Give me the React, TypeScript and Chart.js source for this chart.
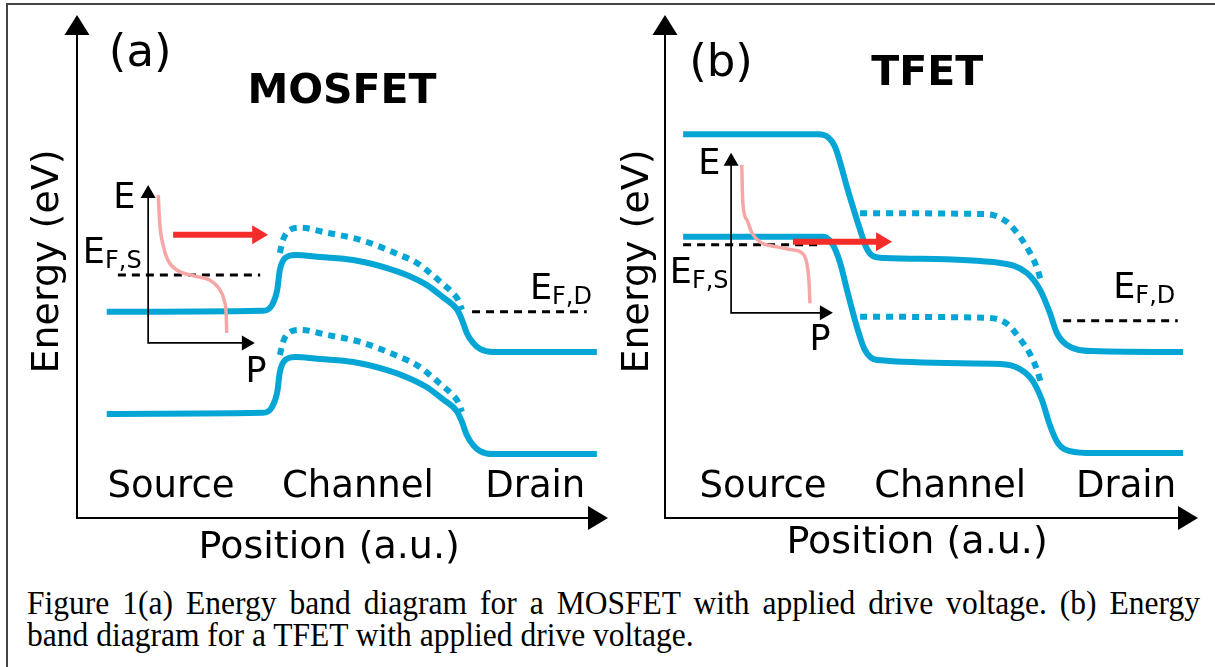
import { useEffect, useRef } from "react";
import { Chart, registerables } from "chart.js";

Chart.register(...registerables);

type Pt = [number, number];

const FONT = '"DejaVu Sans", Verdana, sans-serif';
const BAND = "#05a6d6";
const OCCUPANCY = "#f6a7a5";
const INJECTION = "#f42c2a";

const regionNames = ["Source", "Channel", "Drain"];
const energyTitle = "Energy (eV)";
const positionTitle = "Position (a.u.)";
const captionLines = [
  "Figure 1(a) Energy band diagram for a MOSFET with applied drive voltage. (b) Energy",
  "band diagram for a TFET with applied drive voltage.",
];

// ---------- (a) MOSFET: position 0–100 a.u., energy 0–100 a.u. ----------
const mosCbDriven: Pt[] = [
  [5.6, 41.0], [35.0, 41.2], [36.7, 42.3], [37.7, 45.3], [38.2, 49.3], [39.2, 51.7], [41.1, 52.3],
  [45.8, 51.9], [52.0, 51.3], [58.4, 49.7], [62.1, 48.3], [65.9, 46.3], [68.9, 43.9], [71.6, 41.4],
  [72.5, 39.4], [73.4, 36.8], [74.6, 34.8], [75.9, 33.6], [78.3, 33.0], [97.9, 33.0],
];
const mosVbDriven: Pt[] = [
  [5.6, 20.7], [35.0, 20.9], [36.7, 22.0], [37.7, 25.0], [38.2, 29.0], [39.2, 31.4], [41.1, 32.0],
  [45.8, 31.6], [52.0, 31.0], [58.4, 29.4], [62.1, 28.0], [65.9, 26.0], [68.9, 23.6], [71.6, 21.1],
  [72.5, 19.1], [73.4, 16.5], [74.6, 14.5], [75.9, 13.3], [78.3, 12.7], [97.9, 12.7],
];
const mosCbIdle: Pt[] = [
  [38.2, 52.7], [38.8, 55.3], [40.1, 57.3], [42.0, 57.7], [47.1, 56.7], [53.3, 55.3], [60.8, 52.3],
  [64.0, 50.7], [66.5, 48.7], [68.7, 46.7], [70.6, 44.9], [71.8, 43.3], [72.5, 41.4],
];
const mosVbIdle: Pt[] = [
  [38.2, 32.4], [38.8, 35.0], [40.1, 37.0], [42.0, 37.4], [47.1, 36.4], [53.3, 35.0], [60.8, 32.0],
  [64.0, 30.4], [66.5, 28.4], [68.7, 26.4], [70.6, 24.6], [71.8, 23.0], [72.5, 21.1],
];
const mosFermiSource: Pt[] = [[7.7, 48.3], [34.5, 48.3]];
const mosFermiDrain: Pt[] = [[74.4, 41.0], [96.0, 41.0]];
const mosOccupancy: Pt[] = [
  [15.3, 64.2], [15.6, 58.3], [16.2, 54.3], [17.1, 51.3], [18.8, 49.3], [22.2, 48.1], [25.0, 47.3],
  [26.7, 45.7], [27.7, 43.3], [28.1, 40.4], [28.2, 36.8],
];
const mosInjection: Pt[] = [[18.1, 56.3], [36.0, 56.3]];
const mosInset: Pt[] = [[13.4, 66.2], [13.4, 34.8], [33.5, 34.8]];

// ---------- (b) TFET ----------
const tfetCbDriven: Pt[] = [
  [3.4, 76.3], [28.7, 76.3], [30.6, 75.7], [31.9, 73.8], [34.3, 65.2], [36.6, 57.3], [37.7, 53.9],
  [39.0, 52.1], [41.3, 51.7], [62.9, 50.7], [67.9, 48.7], [70.4, 45.3], [72.2, 40.8], [73.5, 36.8],
  [75.4, 34.4], [80.3, 33.2], [97.2, 33.0],
];
const tfetVbDriven: Pt[] = [
  [3.4, 55.9], [29.6, 55.9], [31.5, 54.3], [32.8, 50.9], [34.3, 44.7], [36.0, 38.0], [37.5, 33.4], [39.8, 31.4],
  [62.9, 30.6], [66.6, 29.6], [68.9, 27.4], [70.7, 23.5], [72.2, 18.5], [73.7, 14.9], [76.0, 13.3], [80.3, 12.9], [97.2, 12.9],
];
const tfetCbIdle: Pt[] = [
  [36.6, 60.6], [60.4, 60.4], [64.2, 58.8], [66.6, 55.9], [68.5, 52.7], [69.8, 49.7], [70.5, 47.3],
];
const tfetVbIdle: Pt[] = [
  [36.6, 40.0], [60.4, 39.8], [64.2, 38.6], [66.6, 35.6], [68.5, 32.6], [69.8, 29.4], [70.5, 27.0],
];
const tfetFermiSource: Pt[] = [[3.4, 54.3], [29.6, 54.3]];
const tfetFermiDrain: Pt[] = [[74.7, 39.2], [96.2, 39.2]];
const tfetOccupancy: Pt[] = [
  [14.4, 70.2], [14.6, 62.6], [15.4, 59.2], [16.3, 56.7], [17.8, 54.9], [21.0, 53.9], [24.0, 53.3],
  [25.7, 52.7], [26.6, 50.7], [27.0, 47.3], [27.2, 42.7],
];
const tfetInjection: Pt[] = [[24.0, 54.9], [42.6, 54.9]];
const tfetInset: Pt[] = [[12.4, 72.6], [12.4, 40.8], [31.5, 40.8]];

interface Panel {
  letter: string;
  device: string;
  cbDriven: Pt[];
  vbDriven: Pt[];
  cbIdle: Pt[];
  vbIdle: Pt[];
  fermiSource: Pt[];
  fermiDrain: Pt[];
  occupancy: Pt[];
  injection: Pt[];
  inset: Pt[];
  // annotation anchors (data units) and pixel offsets
  letterAt: Pt;
  deviceAt: Pt;
  regionX: number[];
  regionBase: number;
  eAt: Pt;
  pAt: Pt;
  efsAt: Pt;
  efdAt: Pt;
  padRight: number;
  energyGap: number;
  positionGap: number;
  positionX: number;
}

const mosfet: Panel = {
  letter: "(a)",
  device: "MOSFET",
  cbDriven: mosCbDriven,
  vbDriven: mosVbDriven,
  cbIdle: mosCbIdle,
  vbIdle: mosVbIdle,
  fermiSource: mosFermiSource,
  fermiDrain: mosFermiDrain,
  occupancy: mosOccupancy,
  injection: mosInjection,
  inset: mosInset,
  letterAt: [11.9, 89.9],
  deviceAt: [49.9, 82.5],
  regionX: [17.7, 52.9, 86.3],
  regionBase: 4.2,
  eAt: [8.9, 61.6],
  pAt: [33.7, 27.0],
  efsAt: [1.1, 50.7],
  efdAt: [85.3, 43.5],
  padRight: 19,
  energyGap: 29,
  positionGap: 30,
  positionX: 47.5,
};

const tfet: Panel = {
  letter: "(b)",
  device: "TFET",
  cbDriven: tfetCbDriven,
  vbDriven: tfetVbDriven,
  cbIdle: tfetCbIdle,
  vbIdle: tfetVbIdle,
  fermiSource: tfetFermiSource,
  fermiDrain: tfetFermiDrain,
  occupancy: tfetOccupancy,
  injection: tfetInjection,
  inset: tfetInset,
  letterAt: [10.5, 87.9],
  deviceAt: [49.2, 86.1],
  regionX: [18.4, 53.5, 86.5],
  regionBase: 4.2,
  eAt: [8.3, 68.4],
  pAt: [29.1, 33.4],
  efsAt: [0.9, 46.7],
  efdAt: [84.1, 43.7],
  padRight: 17,
  energyGap: 27,
  positionGap: 25,
  positionX: 47.3,
};

const CANVAS_W = 627;
const CANVAS_H = 580;

function curve(pts: Pt[], color: string, width: number, dash: number[], order: number) {
  return {
    data: pts.map(([x, y]) => ({ x, y })),
    showLine: true,
    borderColor: color,
    borderWidth: width,
    borderDash: dash,
    borderCapStyle: "butt" as const,
    borderJoinStyle: "round" as const,
    cubicInterpolationMode: "monotone" as const,
    pointRadius: 0,
    fill: false,
    order,
  };
}

function arrowHead(ctx: CanvasRenderingContext2D, tx: number, ty: number, dx: number, dy: number, len: number, half: number) {
  const bx = tx - dx * len;
  const by = ty - dy * len;
  ctx.beginPath();
  ctx.moveTo(tx, ty);
  ctx.lineTo(bx - dy * half, by + dx * half);
  ctx.lineTo(bx + dy * half, by - dx * half);
  ctx.closePath();
  ctx.fill();
}

function makeDecor(p: Panel) {
  return {
    id: "bandDecor",
    afterDatasetsDraw(chart: Chart) {
      const { ctx, chartArea: a } = chart;
      const sx = chart.scales.x;
      const sy = chart.scales.y;
      const X = (v: number) => sx.getPixelForValue(v);
      const Y = (v: number) => sy.getPixelForValue(v);
      ctx.save();
      ctx.fillStyle = "#000";
      ctx.strokeStyle = "#000";

      // main axes with arrow heads
      ctx.lineWidth = 2;
      ctx.beginPath();
      ctx.moveTo(a.left, a.top + 10);
      ctx.lineTo(a.left, a.bottom);
      ctx.lineTo(a.right - 10, a.bottom);
      ctx.stroke();
      arrowHead(ctx, a.left, a.top, 0, -1, 20, 12.5);
      arrowHead(ctx, a.right, a.bottom, 1, 0, 20, 12);

      // small E–P inset axes
      const [eTip, origin, pTip] = p.inset;
      ctx.lineWidth = 1.7;
      ctx.beginPath();
      ctx.moveTo(X(eTip[0]), Y(eTip[1]) + 8);
      ctx.lineTo(X(origin[0]), Y(origin[1]));
      ctx.lineTo(X(pTip[0]) - 8, Y(pTip[1]));
      ctx.stroke();
      arrowHead(ctx, X(eTip[0]), Y(eTip[1]), 0, -1, 13, 7.5);
      arrowHead(ctx, X(pTip[0]), Y(pTip[1]), 1, 0, 13, 7.5);

      // carrier injection arrow
      const [s, e] = p.injection;
      const headLen = 16;
      ctx.strokeStyle = INJECTION;
      ctx.fillStyle = INJECTION;
      ctx.lineWidth = 6;
      ctx.beginPath();
      ctx.moveTo(X(s[0]), Y(s[1]));
      ctx.lineTo(X(e[0]) - headLen + 2, Y(e[1]));
      ctx.stroke();
      arrowHead(ctx, X(e[0]), Y(e[1]), 1, 0, headLen, 9.5);

      // text
      ctx.fillStyle = "#000";
      ctx.textBaseline = "alphabetic";
      ctx.textAlign = "center";
      ctx.font = `45px ${FONT}`;
      ctx.fillText(p.letter, X(p.letterAt[0]), Y(p.letterAt[1]));
      ctx.font = `bold 41px ${FONT}`;
      ctx.fillText(p.device, X(p.deviceAt[0]), Y(p.deviceAt[1]));

      ctx.font = `37px ${FONT}`;
      regionNames.forEach((name, i) => ctx.fillText(name, X(p.regionX[i]), Y(p.regionBase)));

      ctx.font = `35px ${FONT}`;
      ctx.fillText("E", X(p.eAt[0]), Y(p.eAt[1]));
      ctx.fillText("P", X(p.pAt[0]), Y(p.pAt[1]));

      const fermiLabel = (at: Pt, sub: string) => {
        ctx.textAlign = "left";
        ctx.font = `35px ${FONT}`;
        const x0 = X(at[0]);
        const y0 = Y(at[1]);
        ctx.fillText("E", x0, y0);
        const w = ctx.measureText("E").width;
        ctx.font = `24px ${FONT}`;
        ctx.fillText(sub, x0 + w, y0 + 5);
      };
      fermiLabel(p.efsAt, "F,S");
      fermiLabel(p.efdAt, "F,D");

      ctx.textAlign = "center";
      ctx.font = `38px ${FONT}`;
      ctx.textBaseline = "middle";
      ctx.fillText(positionTitle, X(p.positionX), a.bottom + p.positionGap);

      ctx.save();
      ctx.translate(a.left - p.energyGap, Y(51));
      ctx.rotate(-Math.PI / 2);
      ctx.fillText(energyTitle, 0, 0);
      ctx.restore();

      ctx.restore();
    },
  };
}

function BandPanel({ panel, left }: { panel: Panel; left: number }) {
  const ref = useRef<HTMLCanvasElement>(null);
  useEffect(() => {
    const canvas = ref.current;
    if (!canvas) return;
    const chart = new Chart(canvas, {
      type: "scatter",
      data: {
        datasets: [
          curve(panel.cbDriven, BAND, 6, [], 6),
          curve(panel.vbDriven, BAND, 6, [], 6),
          curve(panel.cbIdle, BAND, 6, [7, 6], 5),
          curve(panel.vbIdle, BAND, 6, [7, 6], 5),
          curve(panel.fermiSource, "#000", 3, [8, 6], 4),
          curve(panel.fermiDrain, "#000", 3, [8, 6], 4),
          curve(panel.occupancy, OCCUPANCY, 3.5, [], 3),
        ] as any,
      },
      options: {
        animation: false,
        responsive: false,
        maintainAspectRatio: false,
        events: [],
        layout: { padding: { left: 77, top: 15, right: panel.padRight, bottom: CANVAS_H - 518 } },
        scales: {
          x: { type: "linear", min: 0, max: 100, display: false },
          y: { type: "linear", min: 0, max: 100, display: false },
        },
        plugins: { legend: { display: false }, tooltip: { enabled: false } },
      },
      plugins: [makeDecor(panel)],
    });
    return () => chart.destroy();
  }, [panel]);
  return (
    <canvas
      ref={ref}
      width={CANVAS_W}
      height={CANVAS_H}
      style={{ position: "absolute", left, top: 0, width: CANVAS_W, height: CANVAS_H }}
    />
  );
}

const CAPTION_SQUEEZE = 0.927;

export default function App() {
  const lineStyle = {
    whiteSpace: "nowrap" as const,
    transform: `scaleX(${CAPTION_SQUEEZE})`,
    transformOrigin: "left center",
  };
  return (
    <div style={{ position: "absolute", left: 0, top: 0, width: 1215, height: 667, background: "#fff", overflow: "hidden" }}>
      <div
        style={{
          position: "absolute",
          left: 6,
          top: 3,
          width: 1215,
          height: 667,
          borderLeft: "2px solid #444",
          borderTop: "2px solid #444",
        }}
      />
      <BandPanel panel={mosfet} left={0} />
      <BandPanel panel={tfet} left={588} />
      <div
        style={{
          position: "absolute",
          left: 27,
          top: 587,
          fontFamily: '"Liberation Serif", "Times New Roman", serif',
          fontSize: 34,
          lineHeight: "32px",
          color: "#000",
        }}
      >
        <div style={{ ...lineStyle, width: 1173 / CAPTION_SQUEEZE, textAlign: "justify", textAlignLast: "justify" }}>
          {captionLines[0]}
        </div>
        <div style={lineStyle}>{captionLines[1]}</div>
      </div>
    </div>
  );
}
